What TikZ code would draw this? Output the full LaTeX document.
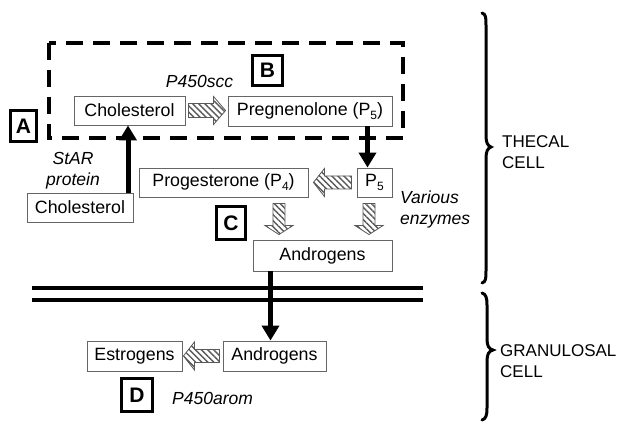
\documentclass[tikz,border=0pt]{standalone}
\usepackage{fontspec}
\setmainfont{Liberation Sans}
\usetikzlibrary{calc,arrows.meta,patterns.meta}
\newcommand\sbs[1]{\raisebox{-0.22em}{\fontsize{12pt}{12pt}\selectfont #1}}
\newcommand\harR[2]{\path[hatch] ($(#1)+(0,-7)$) -- ($(#2)+(-12,-7)$) -- ($(#2)+(-12,-14)$) -- (#2) -- ($(#2)+(-12,14)$) -- ($(#2)+(-12,7)$) -- ($(#1)+(0,7)$) -- cycle;}
\newcommand\harL[2]{\path[hatch] ($(#1)+(0,-6.5)$) -- ($(#2)+(11,-6.5)$) -- ($(#2)+(11,-14)$) -- (#2) -- ($(#2)+(11,14)$) -- ($(#2)+(11,6.5)$) -- ($(#1)+(0,6.5)$) -- cycle;}
\newcommand\harD[2]{\path[hatch] ($(#1)+(-6,0)$) -- ($(#2)+(-6,-9)$) -- ($(#2)+(-14,-9)$) -- (#2) -- ($(#2)+(14,-9)$) -- ($(#2)+(6,-9)$) -- ($(#1)+(6,0)$) -- cycle;}
\begin{document}
\begin{tikzpicture}[x=1pt,y=-1pt,
  cbox/.style={draw=black!60, line width=0.9pt, fill=white, inner sep=0pt, text=black, font=\fontsize{17.8pt}{21pt}\selectfont},
  lbox/.style={draw=black, line width=3pt, fill=white, inner sep=0pt, font=\fontsize{21pt}{24pt}\selectfont\bfseries},
  lbl/.style={inner sep=0pt, font=\fontsize{17.5pt}{21pt}\selectfont\itshape},
  celltext/.style={inner sep=0pt, align=left, font=\fontsize{17pt}{21pt}\selectfont},
  blk/.style={line width=5pt, -{Triangle[width=17pt,length=15pt]}},
  hatch/.style={draw=black!65, line width=0.8pt, pattern={Lines[angle=-45,distance=4.3pt,line width=1.4pt]}, pattern color=black!65},
  membrane/.style={line width=4.5pt},
  bracestyle/.style={line width=3pt, line cap=round},
  dashbox/.style={line width=4pt, dash pattern=on 17pt off 10pt}
]
\useasboundingbox[fill=white] (0,0) rectangle (633,428);

% dashed region
\draw[dashbox] (49,43) rectangle (403,138);

% membrane
\draw[membrane] (32,288) -- (423,288);
\draw[membrane] (32,300) -- (423,300);

% boxes
\node[cbox, minimum width=111pt, minimum height=29pt] (chol1) at (129.5,110.5) {Cholesterol};
\node[cbox, minimum width=164pt, minimum height=30pt] (preg) at (310,111) {Pregnenolone (P\sbs{5})};
\node[cbox, minimum width=106pt, minimum height=29pt] (chol2) at (80,207.5) {Cholesterol};
\node[cbox, minimum width=169pt, minimum height=29pt] (prog) at (223.5,182.5) {Progesterone (P\sbs{4})};
\node[cbox, minimum width=35pt, minimum height=29pt] (p5) at (374.5,182.5) {P\sbs{5}};
\node[cbox, minimum width=139pt, minimum height=31pt] (andr1) at (322.5,255.5) {Androgens};
\node[cbox, minimum width=95pt, minimum height=30pt] (estr) at (134.5,356) {Estrogens};
\node[cbox, minimum width=103pt, minimum height=30pt] (andr2) at (274.5,356) {Androgens};

% letter boxes
\node[lbox, minimum width=26pt, minimum height=31pt] (A) at (23.5,126) {A};
\node[lbox, minimum width=30pt, minimum height=30pt] (B) at (267.5,70.5) {B};
\node[lbox, minimum width=29pt, minimum height=33pt] (C) at (231,223) {C};
\node[lbox, minimum width=31pt, minimum height=33pt] (D) at (137,395) {D};

% labels
\node[lbl] (p450scc) at (199.5,81) {P450scc};
\node[lbl, align=center] (star) at (73,170.5) {StAR\\protein};
\node[lbl, align=left, anchor=west] (various) at (400,209) {Various\\enzymes};
\node[lbl, anchor=west] (arom) at (172,398) {P450arom};
\node[celltext, anchor=west] (thecal) at (502,152.5) {THECAL\\CELL};
\node[celltext, anchor=west] (granu) at (500,361) {GRANULOSAL\\CELL};

% black arrows
\draw[blk] ([xshift=-1.5pt]chol1.south |- chol2.north) -- ([xshift=-1.5pt]chol1.south);
\draw[blk] ([xshift=-7pt]p5.north |- preg.south) -- ([xshift=-7pt]p5.north);
\draw[blk] ([xshift=-4pt]andr2.north |- andr1.south) -- ([xshift=-4pt]andr2.north);

% hatched arrows
\coordinate (r1t) at ($(chol1.east)+(3,0)$);
\coordinate (r1h) at ($(r1t -| preg.west)+(-2,0)$);
\harR{r1t}{r1h}
\coordinate (l1t) at ($(p5.west)+(-5,0)$);
\coordinate (l1h) at ($(l1t -| prog.east)+(5,0)$);
\harL{l1t}{l1h}
\coordinate (d1t) at ($(prog.south east)+(-29.5,6)$);
\coordinate (d1h) at ($(d1t |- andr1.north)+(0,-5)$);
\harD{d1t}{d1h}
\coordinate (d2t) at ($(p5.south)+(-5.5,6)$);
\coordinate (d2h) at ($(d2t |- andr1.north)+(0,-5)$);
\harD{d2t}{d2h}
\coordinate (l2t) at ($(andr2.west)+(-3,0)$);
\coordinate (l2h) at ($(l2t -| estr.east)+(1,0)$);
\harL{l2t}{l2h}

% braces
\draw[bracestyle] (482,13) .. controls (486,14) and (486,18) .. (486,25) -- (486,136) .. controls (486,143) and (488,146) .. (491,147) .. controls (488,148) and (486,151) .. (486,158) -- (486,271) .. controls (486,278) and (486,282) .. (482,283);
\draw[bracestyle] (482,293) .. controls (486,294) and (487,298) .. (487,305) -- (487,339) .. controls (487,346) and (489,349) .. (493,350) .. controls (489,351) and (487,354) .. (487,361) -- (487,408) .. controls (487,415) and (486,419) .. (482,420);
\end{tikzpicture}
\end{document}
